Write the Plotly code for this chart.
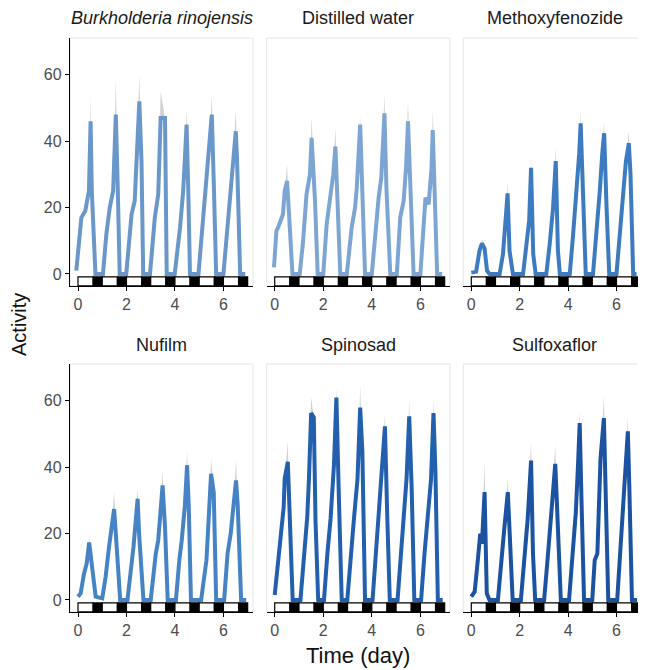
import plotly.graph_objects as go

# ---------------- data ----------------
panels = ["<i>Burkholderia rinojensis</i>", "Distilled water", "Methoxyfenozide",
          "Nufilm", "Spinosad", "Sulfoxaflor"]
colors = ["#6A97CA", "#7DA5D3", "#3D7BC0", "#4683C4", "#2260AE", "#1B53A1"]

burk_t = [-0.07, 0.07, 0.14, 0.3, 0.45, 0.52, 0.57, 0.72, 1.03, 1.17, 1.31, 1.45, 1.52, 1.56, 1.64, 1.72,
          1.99, 2.07, 2.21, 2.34, 2.41, 2.53, 2.62, 2.69, 2.97, 3.17, 3.31, 3.41, 3.59, 3.66, 3.99, 4.21,
          4.34, 4.41, 4.48, 4.55, 4.62, 4.97, 5.1, 5.24, 5.38, 5.52, 5.6, 5.7, 6.0, 6.14, 6.28, 6.41, 6.51,
          6.56, 6.69, 6.9]
burk_v = [1, 12, 17, 19, 25, 46, 25, 0, 0, 12, 20, 25, 47, 48, 26, 0,
          0, 8, 18, 22, 32, 52, 34, 0, 0, 17, 24, 47, 47, 0, 0, 14,
          25, 34, 45, 25, 0, 0, 12, 24, 35, 48, 28, 0, 0, 12, 26, 37, 43,
          35, 0, 0]
burk_hi = [53.5, 58.5, 60, 55, 50, 53.5, 49.4]

water_t = [-0.03, 0.07, 0.14, 0.28, 0.34, 0.41, 0.51, 0.59, 0.73, 1.03, 1.17, 1.31, 1.45, 1.52, 1.66, 1.77,
           2.0, 2.14, 2.28, 2.41, 2.5, 2.62, 2.7, 2.97, 3.17, 3.31, 3.38, 3.52, 3.62, 3.72, 4.0, 4.14, 4.28,
           4.39, 4.52, 4.6, 4.76, 5.03, 5.17, 5.31, 5.41, 5.49, 5.6, 5.72, 6.0, 6.14, 6.21, 6.34, 6.46, 6.51,
           6.62, 6.69, 6.9]
water_v = [2, 13, 14, 17, 18, 25, 28, 18, 0, 0, 10, 24, 30, 41, 22, 0,
           0, 15, 22, 30, 38.4, 17, 0, 0, 14, 20, 26, 45, 26, 0, 0, 12, 23,
           29, 48.4, 26, 0, 0, 17, 22, 32, 46, 22, 0, 0, 17, 23, 21, 32, 43.4,
           20, 0, 0]
water_hi = [33, 47.4, 44, 47.4, 54, 52.5, 49.4]

metho_t = [0.0, 0.2, 0.34, 0.44, 0.55, 0.65, 0.76, 1.17, 1.31, 1.38, 1.45, 1.5, 1.58, 1.72, 2.14, 2.3, 2.39,
           2.47, 2.56, 2.66, 3.1, 3.24, 3.38, 3.49, 3.58, 3.66, 4.07, 4.21, 4.34, 4.46, 4.52, 4.61, 4.73,
           5.03, 5.17, 5.31, 5.42, 5.49, 5.59, 5.7, 6.0, 6.14, 6.28, 6.39, 6.51, 6.58, 6.69, 6.83]
metho_v = [0.4, 0.7, 7, 9.2, 7.7, 1, 0, 0, 6, 13, 18, 24.3, 7, 0, 0, 10, 16,
           32, 6, 0, 0, 9, 20, 34, 7, 0, 0, 12, 24, 36.4, 45.4, 22, 0,
           0, 12, 25, 37, 42.4, 20, 0, 0, 12, 27, 34, 39.4, 30, 0, 0]
metho_hi = [10.5, 28, 35, 38.4, 49.4, 46, 43]

nuf_t = [0.0, 0.11, 0.25, 0.36, 0.46, 0.55, 0.62, 0.73, 1.0, 1.14, 1.28, 1.38, 1.49, 1.56, 1.63, 1.74,
         2.04, 2.18, 2.29, 2.46, 2.52, 2.7, 3.0, 3.21, 3.31, 3.49, 3.59, 3.7, 4.04, 4.18, 4.28, 4.41,
         4.5, 4.57, 4.66, 5.08, 5.21, 5.3, 5.42, 5.49, 5.6, 5.7, 6.03, 6.17, 6.3, 6.42, 6.52, 6.59,
         6.73, 6.94]
nuf_v = [1, 2, 8, 11, 17.3, 11, 6, 1, 0.5, 7, 16, 22, 27.4, 20, 12, 0,
         0, 8, 16, 30.5, 20, 0, 0, 14, 18, 34.5, 22, 0, 0, 12, 18, 28.4,
         40.6, 28, 0, 0, 8, 12, 28.4, 38, 32.5, 0, 0, 14, 20, 29.4, 36, 28.4,
         0, 0]
nuf_hi = [19, 32.5, 33.5, 38.6, 45, 42.6, 42]

spin_t = [0.0, 0.1, 0.23, 0.37, 0.41, 0.54, 0.61, 0.74, 1.06, 1.2, 1.34, 1.41, 1.5, 1.61, 1.68, 1.79,
          2.03, 2.17, 2.3, 2.44, 2.54, 2.65, 2.76, 2.99, 3.13, 3.27, 3.41, 3.52, 3.61, 3.72, 4.03, 4.17,
          4.3, 4.41, 4.54, 4.64, 4.74, 5.06, 5.2, 5.34, 5.43, 5.54, 5.64, 5.75, 6.03, 6.17, 6.3, 6.44,
          6.54, 6.62, 6.72, 6.92]
spin_v = [1.5, 9.6, 18, 28, 36.5, 41.6, 24, 0, 0, 14, 25, 36.5, 56.3, 55, 24, 0,
          0, 14, 24.4, 40.6, 61, 29, 0, 0, 14, 25, 36.5, 58, 44.7, 0, 0, 14,
          26.4, 37.6, 52.3, 24, 0, 0, 14, 26.4, 36.5, 55.3, 34, 0, 0, 14, 25, 36.5,
          56.3, 38.6, 0, 0]
spin_hi = [47.7, 61, 64, 64.5, 56, 60, 60]

sulf_t = [0.0, 0.14, 0.27, 0.37, 0.44, 0.55, 0.64, 0.75, 1.1, 1.23, 1.37, 1.51, 1.58, 1.71, 2.05, 2.19,
          2.33, 2.47, 2.55, 2.64, 3.01, 3.15, 3.29, 3.38, 3.47, 3.52, 3.7, 4.04, 4.18, 4.32, 4.41, 4.48,
          4.56, 4.66, 5.0, 5.1, 5.21, 5.34, 5.48, 5.55, 5.66, 6.03, 6.16, 6.3, 6.47, 6.53, 6.64, 6.85]
sulf_v = [1, 2.5, 12, 20, 17, 32.5, 2, 0, 0, 12, 22, 32.5, 22, 0, 0, 12,
          24.4, 42, 14, 0, 0, 12, 26.4, 34.5, 41, 32.5, 0, 0, 14, 26.4, 40.6, 53.3,
          28.4, 0, 0, 12, 14, 42.6, 54.8, 34.5, 0, 0, 14, 28.4, 50.8, 34.5, 0, 0]
sulf_hi = [41.6, 36.5, 47.7, 46.7, 57, 61.4, 55.3]

series_t = [burk_t, water_t, metho_t, nuf_t, spin_t, sulf_t]
series_v = [burk_v, water_v, metho_v, nuf_v, spin_v, sulf_v]
series_hi = [burk_hi, water_hi, metho_hi, nuf_hi, spin_hi, sulf_hi]

days = [0, 1, 2, 3, 4, 5, 6]
light_on = [0, 1, 2, 3, 4, 5, 6]
dark_on = [0.625, 1.625, 2.625, 3.625, 4.625, 5.625, 6.625]
dark_off = [1.0, 2.0, 3.0, 4.0, 5.0, 6.0, 7.0]
x_ticks = [0, 2, 4, 6]
y_ticks = [0, 20, 40, 60]

# ---------------- layout ----------------
# the page body has an 8 px margin, so the figure is 8 px smaller and offset
OFF = 8
W, H = 646 - OFF, 670 - OFF
ml, mr, mt, mb = 70 - OFF, 0, 38 - OFF, 58
pw = W - ml - mr
ph = H - mt - mb
xdom = [[0, 183 / pw], [196.7 / pw, 380 / pw], [393.3 / pw, 1.0]]
ydom = [[(612 - 286) / ph, 1.0], [0.0, (612 - 364) / ph]]
XR = [-0.33, 7.22]
YR = [-3.62, 71.1]
BAR = [-3.6, -0.9]

fig = go.Figure()
layout = dict(width=W, height=H, margin=dict(l=ml, r=mr, t=mt, b=mb),
              paper_bgcolor="white", plot_bgcolor="white", showlegend=False,
              font=dict(family="Liberation Sans, Arial, sans-serif", color="#222"))
shapes = []
annotations = []

for i, name in enumerate(panels):
    r, c = divmod(i, 3)
    k = i + 1
    xa = "x" if k == 1 else f"x{k}"
    ya = "y" if k == 1 else f"y{k}"
    xkey = "xaxis" if k == 1 else f"xaxis{k}"
    ykey = "yaxis" if k == 1 else f"yaxis{k}"
    layout[xkey] = dict(domain=xdom[c], anchor=ya, range=XR, tickvals=x_ticks,
                        showgrid=False, zeroline=False, showline=True, linecolor="black",
                        linewidth=1.3, ticks="outside", ticklen=4, tickcolor="black",
                        tickfont=dict(size=16, color="#4d4d4d"))
    layout[ykey] = dict(domain=ydom[r], anchor=xa, range=YR, tickvals=y_ticks,
                        showgrid=False, zeroline=False,
                        showline=(c == 0), linecolor="black", linewidth=1.3,
                        ticks="outside" if c == 0 else "", ticklen=4, tickcolor="black",
                        showticklabels=(c == 0),
                        tickfont=dict(size=16, color="#4d4d4d"))

    t = series_t[i]
    v = series_v[i]
    hi = series_hi[i]
    # ribbon: upper bound at each day's peak knot
    upper = list(v)
    for d, h in zip(days, hi):
        idx = [j for j in range(len(t)) if d <= t[j] < d + 1]
        jmax = max(idx, key=lambda j: v[j])
        upper[jmax] = h
    fig.add_trace(go.Scatter(x=t + t[::-1], y=upper + v[::-1], fill="toself",
                             fillcolor="rgba(190,190,190,0.7)", line=dict(width=0),
                             mode="lines", hoverinfo="skip", xaxis=xa, yaxis=ya))
    fig.add_trace(go.Scatter(x=t, y=v, mode="lines",
                             line=dict(color=colors[i], width=4),
                             xaxis=xa, yaxis=ya))

    # panel border (light gray)
    shapes.append(dict(type="rect", xref=f"{xa} domain", yref=f"{ya} domain",
                       x0=0, x1=1, y0=0, y1=1, line=dict(color="#E6E6E6", width=1),
                       layer="below"))
    # light/dark bar
    for lo, dn, df in zip(light_on, dark_on, dark_off):
        shapes.append(dict(type="rect", xref=xa, yref=ya, x0=lo, x1=dn, y0=BAR[0], y1=BAR[1],
                           fillcolor="white", line=dict(color="black", width=1.2)))
        shapes.append(dict(type="rect", xref=xa, yref=ya, x0=dn, x1=df, y0=BAR[0], y1=BAR[1],
                           fillcolor="black", line=dict(color="black", width=1.2)))
    # strip title
    annotations.append(dict(text=name, xref=f"{xa} domain", yref=f"{ya} domain",
                            x=0.5, y=1.0, yshift=20 if r == 0 else 19, showarrow=False,
                            font=dict(size=18, color="#1a1a1a"),
                            xanchor="center", yanchor="middle"))

annotations.append(dict(text="Time (day)", xref="paper", yref="paper", x=0.5, y=0,
                        yshift=-43, showarrow=False, font=dict(size=22, color="#111"),
                        yanchor="middle"))
annotations.append(dict(text="Activity", xref="paper", yref="paper", x=0, y=0.5,
                        xshift=-51, showarrow=False, textangle=-90,
                        font=dict(size=20, color="#111"), xanchor="center"))

layout["shapes"] = shapes
layout["annotations"] = annotations
fig.update_layout(**layout)
fig.write_html("out.html")
